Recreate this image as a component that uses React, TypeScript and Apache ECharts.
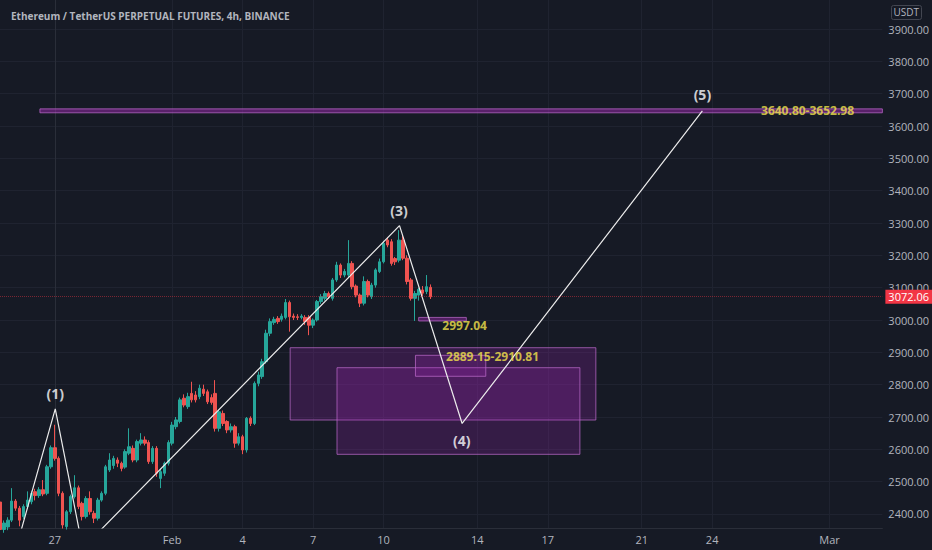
import React, { useEffect, useRef } from "react";
import * as echarts from "echarts";

// time unit: hours relative to 27 Jan 00:00, one candle every 4 hours
const firstCandleHour = -56;
const candleStepHours = 4;

// candles: [open, high, low, close]
const candlesOHLC: number[][] = [
  [2437, 2445, 2340, 2352], [2352, 2380, 2342, 2372], [2360, 2390, 2350, 2381], [2381, 2480, 2375, 2440],
  [2440, 2446, 2410, 2418], [2418, 2425, 2362, 2381], [2392, 2430, 2385, 2423], [2423, 2470, 2415, 2443],
  [2438, 2472, 2430, 2464], [2469, 2478, 2442, 2457], [2457, 2483, 2450, 2475], [2475, 2505, 2455, 2462],
  [2464, 2552, 2458, 2546], [2546, 2612, 2540, 2605], [2605, 2676, 2565, 2572], [2572, 2578, 2455, 2464],
  [2464, 2470, 2355, 2366], [2361, 2412, 2352, 2407], [2407, 2460, 2400, 2454], [2454, 2520, 2448, 2481],
  [2481, 2488, 2415, 2423], [2433, 2438, 2380, 2392], [2392, 2455, 2386, 2448], [2448, 2470, 2398, 2407],
  [2402, 2410, 2372, 2387], [2387, 2450, 2380, 2443], [2443, 2470, 2438, 2464], [2464, 2552, 2458, 2546],
  [2536, 2588, 2530, 2567], [2550, 2580, 2540, 2572], [2567, 2575, 2545, 2557], [2557, 2562, 2532, 2541],
  [2545, 2600, 2540, 2593], [2588, 2665, 2582, 2608], [2603, 2612, 2560, 2567], [2567, 2630, 2560, 2624],
  [2619, 2650, 2612, 2629], [2629, 2640, 2612, 2619], [2621, 2628, 2555, 2562], [2562, 2610, 2555, 2603],
  [2603, 2610, 2515, 2526], [2510, 2540, 2480, 2531], [2526, 2562, 2518, 2557], [2557, 2628, 2550, 2621],
  [2619, 2685, 2612, 2675], [2670, 2700, 2662, 2691], [2686, 2760, 2680, 2753], [2758, 2770, 2730, 2737],
  [2732, 2775, 2725, 2763], [2773, 2809, 2745, 2753], [2768, 2780, 2745, 2753], [2763, 2800, 2755, 2789],
  [2786, 2800, 2765, 2773], [2778, 2785, 2740, 2747], [2760, 2770, 2738, 2745], [2773, 2814, 2655, 2665],
  [2665, 2722, 2655, 2716], [2711, 2720, 2672, 2680], [2686, 2690, 2650, 2660], [2660, 2680, 2652, 2670],
  [2670, 2676, 2605, 2619], [2619, 2650, 2612, 2639], [2639, 2645, 2585, 2598], [2598, 2700, 2590, 2696],
  [2696, 2702, 2672, 2680], [2680, 2810, 2675, 2804], [2804, 2840, 2795, 2830], [2825, 2880, 2818, 2871],
  [2871, 2970, 2865, 2959], [2959, 3005, 2950, 2995], [2992, 3010, 2985, 3002], [3005, 3012, 2988, 2995],
  [3002, 3020, 2995, 3012], [3008, 3065, 3002, 3054], [3054, 3060, 2964, 3010], [3012, 3020, 3000, 3008],
  [3010, 3018, 3000, 3008], [3008, 3018, 3002, 3012], [3008, 3015, 2985, 2995], [3008, 3015, 2953, 2984],
  [2984, 3005, 2975, 3000], [3000, 3062, 2995, 3057], [3057, 3080, 3050, 3072], [3067, 3090, 3060, 3082],
  [3082, 3088, 3065, 3072], [3067, 3130, 3060, 3124], [3124, 3180, 3118, 3170], [3170, 3175, 3130, 3139],
  [3139, 3158, 3132, 3150], [3139, 3247, 3132, 3175], [3175, 3182, 3095, 3103], [3105, 3110, 3070, 3077],
  [3077, 3082, 3040, 3052], [3052, 3135, 3045, 3119], [3119, 3125, 3070, 3077], [3072, 3115, 3065, 3108],
  [3108, 3160, 3100, 3155], [3150, 3190, 3145, 3180], [3180, 3245, 3175, 3237], [3247, 3255, 3225, 3232],
  [3242, 3250, 3168, 3175], [3190, 3195, 3170, 3180], [3185, 3278, 3178, 3247], [3247, 3260, 3185, 3191],
  [3191, 3200, 3110, 3119], [3124, 3130, 3060, 3067], [3067, 3090, 2997.04, 3082], [3077, 3100, 3060, 3095],
  [3093, 3105, 3075, 3083], [3088, 3139, 3080, 3103], [3101, 3110, 3065, 3072.06],
];

const lastPrice = 3072.06;

// Elliott wave path (hour, price)
const waveHours = [-39, 0.5, 28.6, 352.4, 416.4, 662];
const wavePrices = [2300, 2725, 2294, 3292, 2680, 3647];

const waveLabelText = ["(1)", "(3)", "(4)", "(5)"];
const waveLabelHours = [0.5, 352, 416, 662];
const waveLabelPrices = [2772, 3340, 2627, 3696];

// zones
const zoneStartHours = [-15.2, 240.6, 288.5, 368.7, 372];
const zoneEndHours = [846, 553.1, 536.8, 440.6, 420.7];
const zoneLow = [3640.8, 2690.7, 2584.6, 2825.9, 2997.04];
const zoneHigh = [3652.98, 2914.3, 2852.5, 2890.8, 3008];
const zoneFillAlpha = [0.5, 0.24, 0.24, 0.24, 0.45];

const zoneLabelText = ["2997.04", "2889.15-2910.81", "3640.80-3652.98"];
const zoneLabelHours = [419, 447.5, 769.5];
const zoneLabelPrices = [2984.5, 2885.6, 3646.4];

// axes
const xTickHours = [0, 120, 192, 264, 336, 432, 504, 600, 672, 792];
const xTickLabels = ["27", "Feb", "4", "7", "10", "14", "17", "21", "24", "Mar"];
const yTickValues = [2400, 2500, 2600, 2700, 2800, 2900, 3000, 3100, 3200, 3300, 3400, 3500, 3600, 3700, 3800, 3900];

const FONT = "Open Sans";

export default function App() {
  const ref = useRef<HTMLDivElement>(null);

  useEffect(() => {
    document.body.style.margin = "0";
    if (!ref.current) return;
    const chart = echarts.init(ref.current, undefined, { renderer: "svg" });

    const candleData = candlesOHLC.map((c, i) => [
      firstCandleHour + i * candleStepHours,
      c[0],
      c[3],
      c[2],
      c[1],
    ]);

    const waveData = waveHours.map((h, i) => [h, wavePrices[i]]);

    const areas = zoneStartHours.map((h, i) => [
      {
        coord: [h, zoneHigh[i]],
        itemStyle: {
          color: `rgba(156, 39, 176, ${zoneFillAlpha[i]})`,
          borderColor: "rgba(186, 104, 200, 0.75)",
          borderWidth: 1,
        },
      },
      { coord: [zoneEndHours[i], zoneLow[i]] },
    ]);

    chart.setOption({
      animation: false,
      backgroundColor: "#161a25",
      title: {
        text: "Ethereum / TetherUS PERPETUAL FUTURES, 4h, BINANCE",
        left: 6,
        top: 6,
        textStyle: { color: "#b2b5be", fontSize: 10, fontWeight: "bold", fontFamily: FONT },
      },
      grid: { left: 0, right: 47, top: 0, bottom: 22 },
      xAxis: {
        type: "value",
        min: -56,
        max: 846,
        axisLine: { show: true, lineStyle: { color: "#2a2e39" } },
        axisTick: { show: false, customValues: xTickHours },
        axisLabel: {
          customValues: xTickHours,
          color: "#b2b5be",
          fontSize: 11,
          fontFamily: FONT,
          margin: 6,
          formatter: (v: number) => {
            const i = xTickHours.indexOf(Math.round(v));
            return i >= 0 ? xTickLabels[i] : "";
          },
        },
        splitLine: { show: true, lineStyle: { color: "#1f2330", width: 1 } },
      },
      yAxis: {
        type: "value",
        position: "right",
        min: 2356.7,
        max: 3989.7,
        axisLine: { show: true, lineStyle: { color: "#2a2e39" } },
        axisTick: { show: false, customValues: yTickValues },
        axisLabel: {
          customValues: yTickValues,
          color: "#b2b5be",
          fontSize: 11,
          fontFamily: FONT,
          margin: 6,
          formatter: (v: number) => v.toFixed(2),
        },
        splitLine: { show: true, lineStyle: { color: "#1f2330", width: 1 } },
      },
      series: [
        {
          type: "candlestick",
          data: candleData,
          encode: { x: 0, y: [1, 2, 3, 4] },
          barWidth: 3,
          clip: true,
          itemStyle: {
            color: "#26a69a",
            color0: "#ef5350",
            borderColor: "#26a69a",
            borderColor0: "#ef5350",
            borderWidth: 1,
          },
          markLine: {
            silent: true,
            symbol: ["none", "none"],
            data: [{ yAxis: lastPrice }],
            lineStyle: { color: "rgba(242, 54, 69, 0.45)", type: "dotted", width: 1 },
            label: {
              show: true,
              position: "end",
              distance: 3,
              formatter: lastPrice.toFixed(2),
              backgroundColor: "#f23645",
              color: "#ffffff",
              opacity: 1,
              fontFamily: FONT,
              fontSize: 11,
              padding: [2, 3, 1, 3],
            },
          },
        },
        {
          type: "line",
          data: waveData,
          symbol: "none",
          clip: true,
          z: 4,
          lineStyle: { color: "#ececec", width: 1.2 },
          markArea: { silent: true, data: areas },
        },
        {
          type: "scatter",
          symbolSize: 1,
          itemStyle: { color: "rgba(0,0,0,0)" },
          z: 5,
          data: waveLabelText.map((t, i) => ({ name: t, value: [waveLabelHours[i], waveLabelPrices[i]] })),
          label: {
            show: true,
            position: "inside",
            formatter: "{b}",
            color: "#ffffff",
            fontSize: 14,
            fontWeight: "bold",
            fontFamily: FONT,
          },
        },
        {
          type: "scatter",
          symbolSize: 1,
          itemStyle: { color: "rgba(0,0,0,0)" },
          z: 5,
          data: zoneLabelText.map((t, i) => ({ name: t, value: [zoneLabelHours[i], zoneLabelPrices[i]] })),
          label: {
            show: true,
            position: "inside",
            formatter: "{b}",
            color: "#f5e64c",
            fontSize: 12,
            fontWeight: "bold",
            fontFamily: FONT,
          },
        },
      ],
      graphic: [
        {
          type: "rect",
          right: 10,
          top: 5,
          shape: { width: 30, height: 14, r: 2 },
          style: { fill: "#161a25", stroke: "#434651", lineWidth: 1 },
        },
        {
          type: "text",
          right: 13,
          top: 7,
          style: { text: "USDT", fill: "#b2b5be", fontSize: 10, fontFamily: FONT },
        },
      ],
    });

    return () => chart.dispose();
  }, []);

  return (
    <div
      ref={ref}
      style={{ position: "fixed", left: 0, top: 0, width: "932px", height: "550px" }}
    />
  );
}
